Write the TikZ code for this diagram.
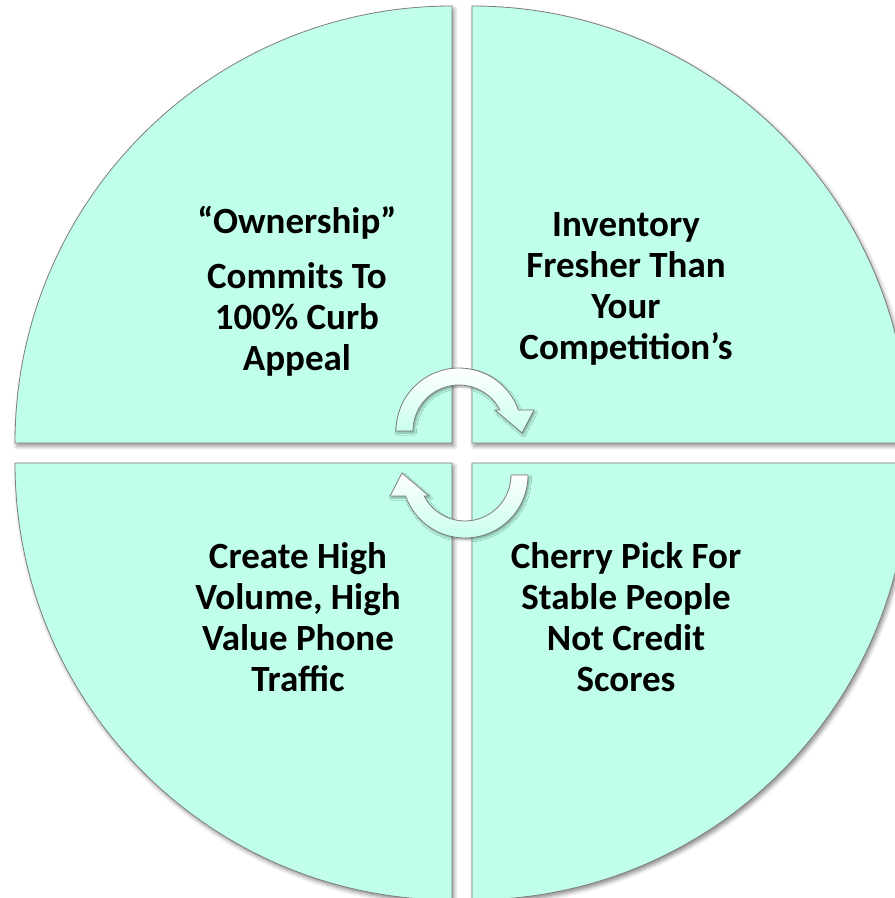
\documentclass[tikz,border=0pt]{standalone}
\usepackage{fontspec}
\setmainfont{Carlito}
\usetikzlibrary{shadows.blur}
\definecolor{quadfill}{RGB}{191,255,236}
\definecolor{rimgray}{RGB}{125,125,125}
\tikzset{quad/.style = {fill=quadfill, draw=rimgray, line width=0.8pt,
    blur shadow={shadow xshift=2pt, shadow yshift=-3pt, shadow blur radius=4pt, shadow opacity=45}}}
\tikzset{turn/.style = {draw=rimgray, line width=0.8pt, top color=white, bottom color=quadfill!85!white,
    blur shadow={shadow xshift=1.5pt, shadow yshift=-2pt, shadow blur radius=2pt, shadow opacity=35}}}
\tikzset{quadtext/.style = {align=center, text=black, inner sep=0,
    font=\bfseries\fontsize{37}{41}\selectfont}}

\begin{document}
\begin{tikzpicture}[x=1pt, y=1pt]
    \useasboundingbox (-462, -445) rectangle (433, 453);
    \clip (-462, -445) rectangle (433, 453);

    % four quarters
    \foreach \a/\cx/\cy in {0/10/10, 90/-10/10, 180/-10/-10, 270/10/-10}
      \draw [quad] (\cx, \cy) -- ++(\a:437) arc [start angle=\a, end angle=\a+90, radius=437] -- cycle;

    % turning arrows
    \draw [turn] (-66, 22) arc [start angle=180, end angle=19.5, radius=63]
      -- (72, 43) -- (60, 20) -- (33, 43) -- (37.9, 43)
      arc [start angle=27.2, end angle=180, radius=46] -- cycle;
    \draw [turn] (66, -22) arc [start angle=0, end angle=-160.5, radius=63]
      -- (-72, -43) -- (-60, -20) -- (-33, -43) -- (-37.9, -43)
      arc [start angle=-152.8, end angle=0, radius=46] -- cycle;

    \node [quadtext] (owner) at (-165, 162) {“Ownership”\\[14pt]Commits To\\100\% Curb\\Appeal};
    \node [quadtext] (stock) at (164, 164) {Inventory\\Fresher Than\\Your\\Competition’s};
    \node [quadtext] (calls) at (-164, -164) {Create High\\Volume, High\\Value Phone\\Traffic};
    \node [quadtext] (buyers) at (164, -164) {Cherry Pick For\\Stable People\\Not Credit\\Scores};
  \end{tikzpicture}
\end{document}
